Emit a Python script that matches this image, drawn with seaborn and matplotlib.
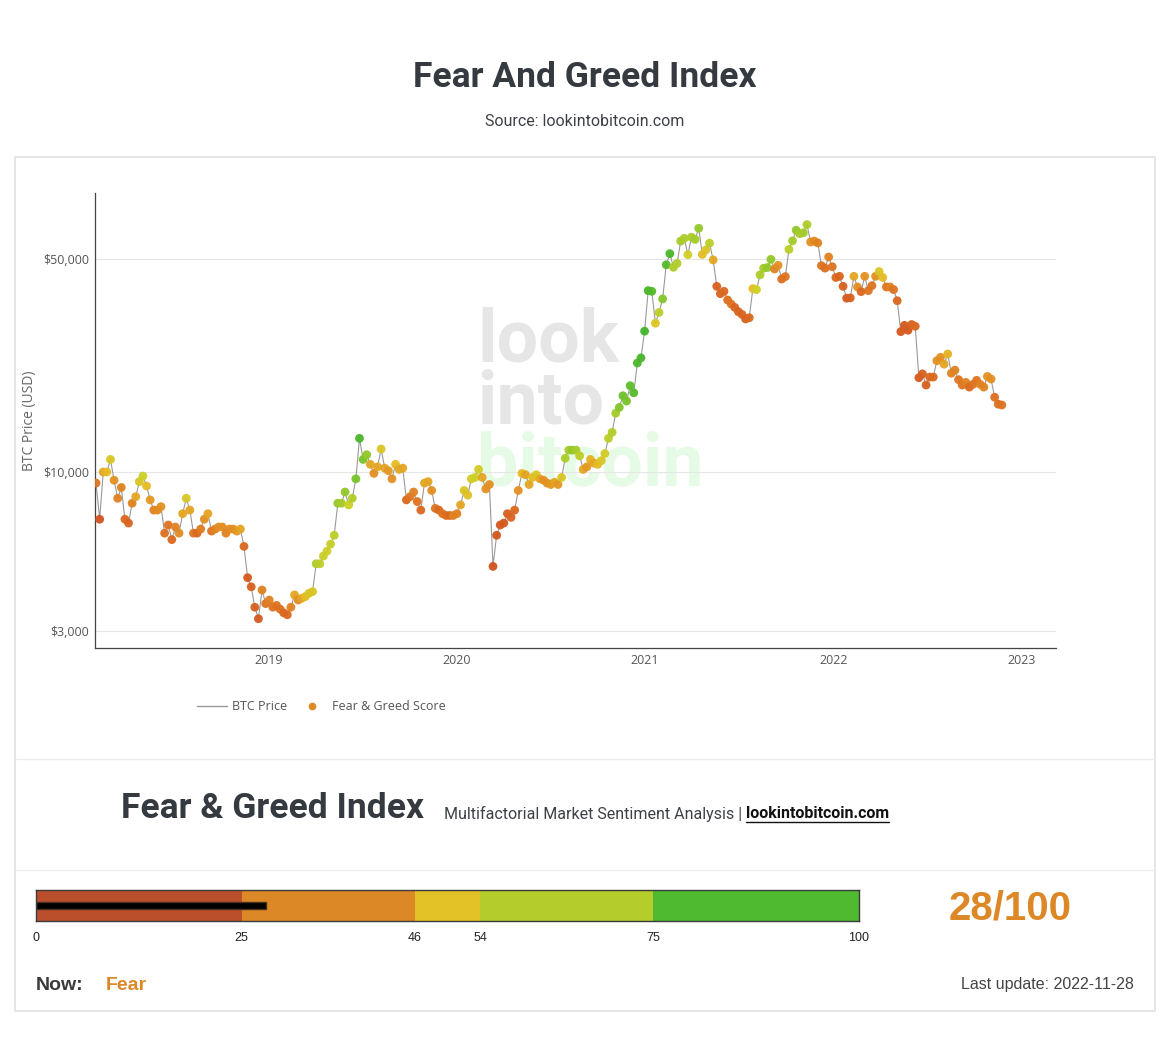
import matplotlib.pyplot as plt
import matplotlib.patches as mpatches
import numpy as np
import pandas as pd
import seaborn as sns
from matplotlib.colors import LinearSegmentedColormap
from matplotlib.lines import Line2D
from matplotlib.ticker import NullLocator

# weekly BTC closes (Thursdays)
price_2018 = [9200, 7000, 10000, 10000, 11000, 9400, 8200, 8900, 7000, 6800, 7900, 8300,
              9300, 9700, 9000, 8100, 7500, 7500, 7700, 6300, 6700, 6000, 6600, 6300,
              7300, 8200, 7500, 6300, 6300, 6500, 7000, 7300, 6400, 6500, 6600, 6600,
              6300, 6500, 6500, 6400, 6500, 5700, 4500, 4200, 3600, 3300, 4100, 3700]
price_2019 = [3800, 3600, 3650, 3550, 3450, 3400, 3600, 3950, 3800, 3850, 3900, 4000,
              4050, 5000, 5000, 5300, 5500, 5800, 6200, 7900, 7900, 8600, 7800, 8200,
              9500, 12900, 11000, 11400, 10600, 9900, 10400, 11900, 10300, 10100, 9500,
              10600, 10200, 10300, 8100, 8300, 8600, 8000, 7500, 9200, 9300, 8700, 7600,
              7500, 7300, 7200, 7200, 7200]
price_2020 = [7300, 7800, 8700, 8400, 9500, 9600, 10200, 9600, 8800, 9100, 4900, 6200,
              6700, 6800, 7300, 7100, 7500, 8700, 9900, 9800, 9100, 9600, 9800, 9500,
              9400, 9200, 9100, 9250, 9100, 9600, 11100, 11800, 11800, 11800, 11300,
              10200, 10400, 11000, 10700, 10600, 10900, 11500, 12900, 13500, 15600,
              16300, 17800, 17100, 19200, 18200, 22800, 23700, 29000]
price_2021 = [39400, 39200, 30800, 33400, 37000, 47900, 52100, 47000, 48400, 57300,
              58500, 51700, 59000, 58000, 63100, 51800, 53600, 56400, 49700, 40700,
              38500, 39200, 36700, 35600, 34700, 33600, 32900, 31800, 32100, 40000,
              39700, 44400, 46700, 46900, 49900, 46400, 47700, 43000, 43800, 53800,
              57400, 62200, 60600, 61000, 64900, 56900, 57300, 56500, 47600, 46700,
              50800, 47200]
price_2022 = [43500, 43900, 40700, 37200, 37300, 43900, 40500, 39100, 43900, 39400,
              40900, 43900, 45500, 43500, 40500, 40500, 39700, 36500, 28900, 30300,
              29200, 30500, 30100, 20400, 21000, 19300, 20500, 20500, 23200, 23800,
              22600, 24400, 21100, 21600, 20100, 19300, 19700, 19000, 19400, 20000,
              19400, 19000, 20600, 20200, 17600, 16700, 16600]

score_2018 = [30, 10, 45, 50, 55, 40, 35, 35, 25, 22, 35, 45, 55, 60, 50, 42, 35, 38,
              40, 28, 30, 25, 35, 38, 45, 55, 45, 30, 25, 32, 40, 45, 30, 35, 40, 40,
              35, 38, 40, 42, 45, 25, 15, 20, 18, 15, 35, 30]
score_2019 = [35, 30, 30, 28, 25, 25, 35, 45, 40, 45, 50, 55, 55, 70, 65, 62, 60, 62,
              65, 75, 72, 75, 60, 68, 80, 92, 80, 75, 45, 40, 45, 55, 45, 42, 40, 50,
              45, 45, 25, 30, 35, 30, 25, 45, 45, 40, 30, 25, 30, 28, 25, 35]
score_2020 = [35, 45, 55, 52, 58, 60, 58, 45, 40, 40, 10, 12, 15, 15, 20, 22, 25, 40,
              50, 45, 45, 50, 55, 45, 40, 40, 42, 45, 42, 55, 70, 72, 75, 72, 65, 45,
              42, 48, 45, 50, 55, 58, 65, 68, 72, 78, 82, 80, 85, 88, 92, 93, 95]
score_2021 = [93, 88, 55, 65, 78, 88, 92, 70, 68, 72, 70, 60, 70, 72, 75, 50, 55, 65,
              45, 20, 22, 25, 28, 30, 22, 22, 22, 20, 25, 50, 60, 70, 72, 75, 75, 35,
              40, 28, 30, 65, 72, 75, 72, 72, 70, 40, 38, 35, 30, 28, 35, 30]
score_2022 = [25, 22, 20, 15, 20, 45, 40, 25, 40, 30, 30, 40, 55, 50, 30, 35, 30, 25,
              15, 15, 15, 20, 25, 15, 18, 20, 25, 25, 40, 40, 45, 48, 35, 35, 30, 30,
              35, 25, 30, 30, 35, 35, 40, 40, 28, 28, 30]

gauge_edges = [0, 25, 46, 54, 75, 100]
gauge_colors = ["#bb4f2c", "#dc8826", "#e2c226", "#b4cd2a", "#4fba2f"]
current_score = 28
current_label = "Fear"
last_update = "2022-11-28"

dates = pd.date_range("2018-02-01", "2022-11-24", freq="W-THU")
price = np.concatenate([price_2018, price_2019, price_2020, price_2021, price_2022])
score = np.concatenate([score_2018, score_2019, score_2020, score_2021, score_2022])
df = pd.DataFrame({"date": dates, "price": price, "score": score})

point_cmap = LinearSegmentedColormap.from_list("fg", [
    (0.0, "#c9461b"), (0.25, "#db681f"), (0.40, "#e38f22"), (0.50, "#e5bb22"),
    (0.60, "#cdd025"), (0.72, "#a6cc2a"), (0.85, "#5cbd2a"), (1.0, "#38b02a")])

sns.set_theme(style="white")
plt.rcParams["font.family"] = ["Roboto", "DejaVu Sans"]

W, H = 1170, 1061
fig = plt.figure(figsize=(W / 100, H / 100), dpi=100)


def fx(px):
    return px / W


def fy(py):
    return 1 - py / H


# page furniture
fig.text(fx(585), fy(77), "Fear And Greed Index", ha="center", va="center",
         fontsize=25.5, fontweight="bold", color="#343a40")
fig.text(fx(585), fy(121), "Source: lookintobitcoin.com", ha="center", va="center",
         fontsize=11.5, color="#3d4146")
fig.add_artist(mpatches.Rectangle((fx(15), fy(1011)), fx(1140), (1011 - 157) / H,
                                  transform=fig.transFigure, fill=False,
                                  edgecolor="#e2e2e2", lw=1.2))
for yy in (759, 870):
    fig.add_artist(Line2D([fx(16), fx(1154)], [fy(yy), fy(yy)],
                          transform=fig.transFigure, color="#ececec", lw=1))

# price chart
ax = fig.add_axes([fx(95), fy(648), fx(1056) - fx(95), (648 - 193) / H])
for word, yb, col in (("look", 361, "#e6e6e6"), ("into", 424, "#e6e6e6"),
                      ("bitcoin", 486, "#e6fbe6")):
    ax.text(fx(477), fy(yb), word, transform=fig.transFigure, fontsize=53,
            fontweight="bold", color=col, va="baseline", ha="left", zorder=0)

sns.lineplot(data=df, x="date", y="price", ax=ax, color="#9a9a9a", lw=0.8, zorder=2)
sns.scatterplot(data=df, x="date", y="price", hue="score", palette=point_cmap,
                hue_norm=(0, 100), s=40, edgecolor="none", alpha=0.95,
                legend=False, ax=ax, zorder=3)

ax.set_yscale("log")
ax.set_ylim(2645, 82400)
ax.set_xlim(pd.Timestamp("2018-01-30"), pd.Timestamp("2023-03-09"))
ax.set_yticks([3000, 10000, 50000])
ax.set_yticklabels(["$3,000", "$10,000", "$50,000"])
ax.yaxis.set_minor_locator(NullLocator())
years = [2019, 2020, 2021, 2022, 2023]
ax.set_xticks([pd.Timestamp(f"{y}-01-01") for y in years])
ax.set_xticklabels([str(y) for y in years])
ax.grid(axis="y", color="#e6e6e6", lw=0.8)
ax.grid(axis="x", visible=False)
for side in ("top", "right"):
    ax.spines[side].set_visible(False)
for side in ("left", "bottom"):
    ax.spines[side].set_color("#444444")
    ax.spines[side].set_linewidth(0.9)
ax.tick_params(length=0, labelsize=9, colors="#555555", pad=4)
for lab in ax.get_xticklabels() + ax.get_yticklabels():
    lab.set_family(["Open Sans", "DejaVu Sans"])
ax.set_xlabel("")
ax.set_ylabel("BTC Price (USD)", fontsize=10, color="#666666",
              family=["Open Sans", "DejaVu Sans"], labelpad=5)

handles = [Line2D([], [], color="#9a9a9a", lw=1, label="BTC Price"),
           Line2D([], [], color="#dd8a25", marker="o", ls="", ms=4.5,
                  label="Fear & Greed Score")]
leg = fig.legend(handles=handles, loc="center left", bbox_to_anchor=(fx(186), fy(707)),
                 ncol=2, frameon=False, handlelength=2.4, handletextpad=0.4,
                 columnspacing=0.8,
                 prop={"family": ["Open Sans", "DejaVu Sans"], "size": 9})
for t in leg.get_texts():
    t.set_color("#555555")

# header of the gauge block
fig.text(fx(121), fy(809), "Fear & Greed Index", ha="left", va="center",
         fontsize=25.5, fontweight="bold", color="#343a40")
sub = fig.text(fx(444), fy(814), "Multifactorial Market Sentiment Analysis | ",
               ha="left", va="center", fontsize=11.5, color="#3d4146")
fig.canvas.draw()
renderer = fig.canvas.get_renderer()
bb = sub.get_window_extent(renderer)
link = fig.text(bb.x1 / W, fy(814), "lookintobitcoin.com", ha="left", va="center",
                fontsize=11.5, fontweight="bold", color="#111111")
lb = link.get_window_extent(renderer)
fig.add_artist(Line2D([lb.x0 / W, lb.x1 / W], [fy(822), fy(822)],
                      transform=fig.transFigure, color="#111111", lw=1))

# gauge
gx = fig.add_axes([fx(36), fy(921), fx(859) - fx(36), 31 / H])
for lo, hi, col in zip(gauge_edges[:-1], gauge_edges[1:], gauge_colors):
    gx.barh(0.5, hi - lo, left=lo, height=1, color=col, edgecolor="none")
gx.barh(0.5, current_score, left=0, height=0.24, color="black",
        edgecolor="#4a3020", lw=1)
gx.set_xlim(0, 100)
gx.set_ylim(0, 1)
gx.set_yticks([])
gx.set_xticks(gauge_edges)
gx.set_xticklabels([str(e) for e in gauge_edges])
gx.tick_params(axis="x", length=5, width=0.8, colors="#222222", labelsize=9, pad=3)
for lab in gx.get_xticklabels():
    lab.set_family(["Liberation Sans", "DejaVu Sans"])
for side in gx.spines:
    gx.spines[side].set_color("#3a3a3a")
    gx.spines[side].set_linewidth(1)

fig.text(fx(1010), fy(908), f"{current_score}/100", ha="center", va="center",
         fontsize=29, fontweight="bold", color="#dc8826",
         family=["Liberation Sans", "DejaVu Sans"])
fig.text(fx(36), fy(986), "Now:", ha="left", va="center", fontsize=14,
         fontweight="bold", color="#3a3a3a", family=["Liberation Sans", "DejaVu Sans"])
fig.text(fx(106), fy(986), current_label, ha="left", va="center", fontsize=14,
         fontweight="bold", color="#dc8826", family=["Liberation Sans", "DejaVu Sans"])
fig.text(fx(1134), fy(984), f"Last update: {last_update}", ha="right", va="center",
         fontsize=11.5, color="#444444", family=["Liberation Sans", "DejaVu Sans"])

fig.savefig("out.png", dpi=100, facecolor="white")
